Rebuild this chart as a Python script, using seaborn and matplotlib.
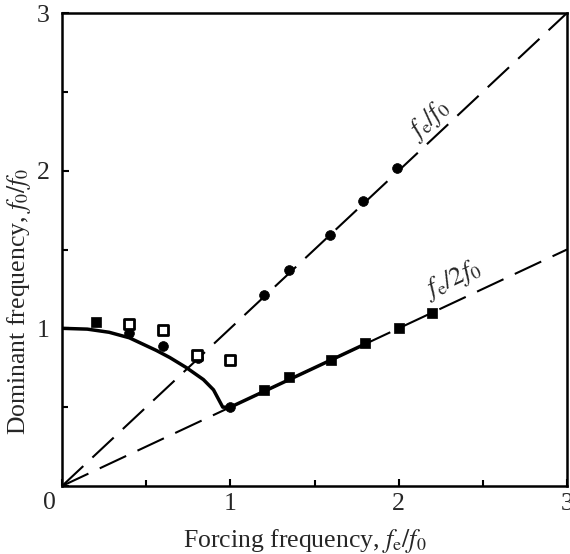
import numpy as np
import pandas as pd
import matplotlib
matplotlib.use("Agg")
import matplotlib.pyplot as plt
import seaborn as sns

# ---- data ----
# solid curve (response) and its continuation along fe/2f0
curve_x = [0.0, 0.15, 0.28, 0.40, 0.48, 0.56, 0.64, 0.74, 0.84, 0.90, 0.955, 1.0, 1.2, 1.35, 1.6, 1.82]
curve_y = [1.0, 0.995, 0.975, 0.94, 0.90, 0.86, 0.815, 0.75, 0.675, 0.61, 0.50, 0.50, 0.60, 0.675, 0.80, 0.91]

# reference lines fe/f0 and fe/2f0
ref_x = [0.0, 3.0]
ref1_y = [0.0, 3.0]
ref2_y = [0.0, 1.5]

# filled squares
fsq_x = [0.20, 1.20, 1.35, 1.60, 1.80, 2.00, 2.20]
fsq_y = [1.04, 0.61, 0.69, 0.80, 0.91, 1.00, 1.10]

# filled circles
fci_x = [0.40, 0.60, 0.81, 1.00, 1.20, 1.35, 1.59, 1.79, 1.99]
fci_y = [0.97, 0.89, 0.81, 0.50, 1.21, 1.37, 1.59, 1.81, 2.02]

# open squares
osq_x = [0.40, 0.60, 0.80, 1.00]
osq_y = [1.03, 0.99, 0.83, 0.80]

x_ticks = [0, 1, 2, 3]
y_ticks = [0, 1, 2, 3]
x_tick_labels = ["", "1", "2", "3"]
y_tick_labels = ["", "1", "2", "3"]

sns.set_style("ticks")
plt.rcParams["font.family"] = ["Liberation Serif", "DejaVu Serif"]
plt.rcParams["mathtext.fontset"] = "stix"

FS = 18.5

fig = plt.figure(figsize=(5.7, 5.54), dpi=100)
ax = fig.add_axes([62 / 570, 1 - 486 / 554, (567 - 62) / 570, (486 - 13) / 554])

dash = (0, (14, 6))
sns.lineplot(x=ref_x, y=ref1_y, ax=ax, color="black", lw=1.5, linestyle=dash, estimator=None, sort=False)
sns.lineplot(x=ref_x, y=ref2_y, ax=ax, color="black", lw=1.5, linestyle=dash, estimator=None, sort=False)
sns.lineplot(x=curve_x, y=curve_y, ax=ax, color="black", lw=2.5, estimator=None, sort=False)

sns.scatterplot(x=fsq_x, y=fsq_y, ax=ax, marker="s", s=55, color="black", edgecolor="black", linewidth=0.5, zorder=5)
sns.scatterplot(x=fci_x, y=fci_y, ax=ax, marker="o", s=50, color="black", edgecolor="black", linewidth=0.5, zorder=5)
sns.scatterplot(x=osq_x, y=osq_y, ax=ax, marker="s", s=50, facecolor="white", edgecolor="black", linewidth=2.0, zorder=6)

ax.set_xlim(0, 3)
ax.set_ylim(0, 3)
ax.set_xticks(x_ticks)
ax.set_xticklabels(x_tick_labels)
ax.set_yticks(y_ticks)
ax.set_yticklabels(y_tick_labels)
ax.set_xticks([0.5, 1.5, 2.5], minor=True)
ax.set_yticks([0.5, 1.5, 2.5], minor=True)
ax.tick_params(which="both", direction="in", width=1.5, color="black", labelsize=FS, pad=5)
ax.tick_params(which="major", length=5)
ax.tick_params(which="minor", length=4)
ax.tick_params(axis="y", pad=9)
for sp in ax.spines.values():
    sp.set_linewidth(1.8)
    sp.set_color("black")
    sp.set_visible(True)

ax.text(-0.024, -0.035, "0", transform=ax.transAxes, fontsize=FS, ha="center", va="center")

ax.set_xlabel(r"Forcing frequency, $f_{\mathrm{e}}/f_0$", fontsize=FS)
ax.set_ylabel(r"Dominant frequency, $f_0/f_0$", fontsize=FS)
ax.xaxis.set_label_coords(0.48, -0.087)
ax.yaxis.set_label_coords(-0.058, 0.39)

ax.text(2.18, 2.32, r"$f_{\mathrm{e}}/f_0$", fontsize=19, rotation=43, ha="center", va="center")
ax.text(2.32, 1.31, r"$f_{\mathrm{e}}/2f_0$", fontsize=19, rotation=25, ha="center", va="center")

fig.savefig("out.png", dpi=100)
